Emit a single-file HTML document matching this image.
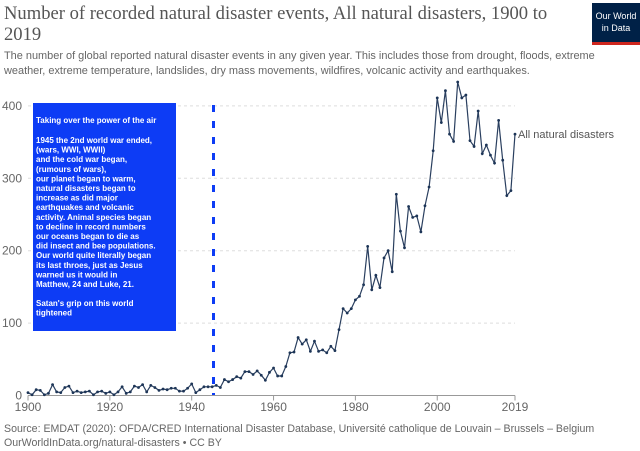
<!DOCTYPE html>
<html><head><meta charset="utf-8"><style>
body{margin:0;background:#fff;width:640px;height:451px;overflow:hidden;font-family:"Liberation Sans",sans-serif}
svg{display:block}
</style></head><body>
<svg id="chart" width="640" height="451">
<text x="4" y="19" font-family="Liberation Serif" font-size="18.6" fill="#555">Number of recorded natural disaster events, All natural disasters, 1900 to</text>
<text x="4" y="40" font-family="Liberation Serif" font-size="18.6" fill="#555">2019</text>
<text x="4" y="59" font-size="10.95" fill="#666">The number of global reported natural disaster events in any given year. This includes those from drought, floods, extreme</text>
<text x="4" y="74" font-size="10.95" fill="#666">weather, extreme temperature, landslides, dry mass movements, wildfires, volcanic activity and earthquakes.</text>
<g>
<rect x="592" y="3" width="48" height="42" fill="#002147"/>
<rect x="592" y="42" width="48" height="3" fill="#ce261e"/>
<text x="616" y="19" font-size="9" fill="#fff" text-anchor="middle">Our World</text>
<text x="616" y="31" font-size="9" fill="#fff" text-anchor="middle">in Data</text>
</g>
<g id="grid"></g>
<g id="marks"></g>
<g>
<rect x="33" y="103" width="143" height="228" fill="#0d3cf5"/>
<text font-size="8" font-weight="bold" fill="#fff">
<tspan x="36" y="123">Taking over the power of the air</tspan>
<tspan x="36" y="143">1945 the 2nd world war ended,</tspan>
<tspan x="36" y="152.6">(wars, WWI, WWII)</tspan>
<tspan x="36" y="162.2">and the cold war began,</tspan>
<tspan x="36" y="171.8">(rumours of wars),</tspan>
<tspan x="36" y="181.4">our planet began to warm,</tspan>
<tspan x="36" y="191">natural disasters began to</tspan>
<tspan x="36" y="200.6">increase as did major</tspan>
<tspan x="36" y="210.2">earthquakes and volcanic</tspan>
<tspan x="36" y="219.8">activity. Animal species began</tspan>
<tspan x="36" y="229.4">to decline in record numbers</tspan>
<tspan x="36" y="239">our oceans began to die as</tspan>
<tspan x="36" y="248.6">did insect and bee populations.</tspan>
<tspan x="36" y="258.2">Our world quite literally began</tspan>
<tspan x="36" y="267.8">its last throes, just as Jesus</tspan>
<tspan x="36" y="277.4">warned us it would in</tspan>
<tspan x="36" y="287">Matthew, 24 and Luke, 21.</tspan>
<tspan x="36" y="306">Satan's grip on this world</tspan>
<tspan x="36" y="315.6">tightened</tspan>
</text>
</g>
<line x1="213.5" y1="105" x2="213.5" y2="395" stroke="#0d3cf5" stroke-width="3" stroke-dasharray="7,9"/>
<text x="4" y="432" font-size="10.6" fill="#666">Source: EMDAT (2020): OFDA/CRED International Disaster Database, Université catholique de Louvain – Brussels – Belgium</text>
<text x="4" y="446" font-size="10.6" fill="#666">OurWorldInData.org/natural-disasters • CC BY</text>
</svg>
<script>
const years=[];for(let y=1900;y<=2019;y++)years.push(y);
const disasters=[4,1,8,7,1,3,15,5,4,11,13,4,6,4,5,6,1,5,6,3,5,1,5,12,3,5,13,11,15,5,14,11,7,9,8,10,10,6,6,10,16,4,8,12,12,12,14,11,22,19,22,26,24,33,33,29,34,28,21,32,38,27,27,40,59,60,80,71,77,61,75,61,
63,59,68,62,91,120,114,120,132,137,153,206,146,166,149,190,200,171,278,227,204,261,246,248,226,262,288,338,411,377,421,361,351,433,411,415,352,344,393,334,346,332,321,380,325,276,283,361];
const yTicks=[0,100,200,300,400];
const xTicks=[1900,1920,1940,1960,1980,2000,2019];
const seriesName="All natural disasters";
const NS="http://www.w3.org/2000/svg";
const X=y=>28+(y-1900)*(515-28)/119;
const Y=v=>395.5-v*0.724;
const grid=document.getElementById('grid'),marks=document.getElementById('marks');
function mk(tag,attrs,parent){const e=document.createElementNS(NS,tag);for(const k in attrs)e.setAttribute(k,attrs[k]);parent.appendChild(e);return e;}
yTicks.forEach(t=>{
  if(t>0){const l=mk('line',{x1:X(1900),x2:X(2019),y1:Y(t),y2:Y(t),stroke:'#ddd','stroke-dasharray':'3,3'},grid);
  
  }
  const tx=mk('text',{x:22,y:Y(t)+4,'font-size':12,fill:'#666','text-anchor':'end'},grid);tx.textContent=t;
  
  
});
const ax=mk('line',{x1:X(1900),x2:X(2019),y1:Y(0),y2:Y(0),stroke:'#999'},grid);


xTicks.forEach(t=>{
  mk('line',{x1:X(t),x2:X(t),y1:Y(0),y2:Y(0)+5,stroke:'#999'},grid);
  const tx=mk('text',{x:X(t),y:411,'font-size':12,fill:'#666','text-anchor':'middle'},grid);tx.textContent=t;
  
  
});
const pts=years.map((y,i)=>X(y).toFixed(1)+','+Y(disasters[i]).toFixed(1)).join(' ');
const pl=mk('polyline',{points:pts,fill:'none',stroke:'#2a3f5f','stroke-width':1.2},marks);


years.forEach((y,i)=>{const c=mk('circle',{cx:X(y),cy:Y(disasters[i]),r:1.4,fill:'#1d3557'},marks);

});
const lab=mk('text',{x:X(2019)+3,y:Y(disasters[disasters.length-1])+4,'font-size':11,fill:'#555'},marks);lab.textContent=seriesName;


</script>
</body></html>
